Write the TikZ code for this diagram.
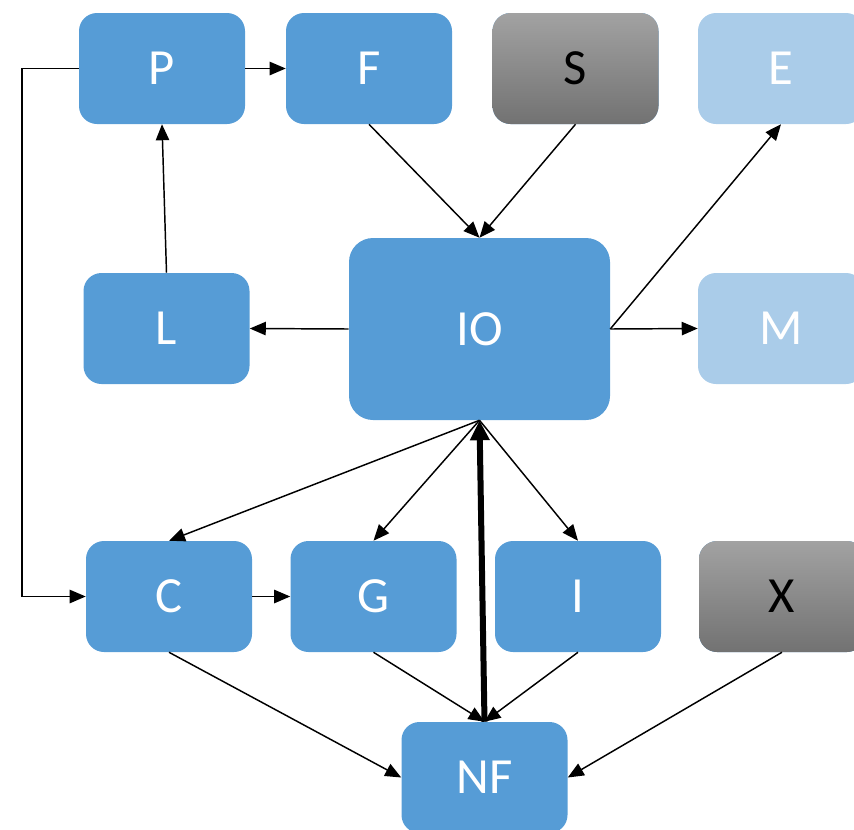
\documentclass[tikz,border=0pt]{standalone}
\usepackage{fontspec}
\setmainfont{Carlito}
\usetikzlibrary{arrows.meta}
\definecolor{bx}{HTML}{569CD6}
\definecolor{lbx}{HTML}{AACCE9}
\definecolor{gtop}{HTML}{A2A2A2}
\definecolor{gbot}{HTML}{727272}
\tikzset{
  box/.style={rounded corners=13.5pt, minimum width=124.5pt, minimum height=83.25pt, inner sep=0pt,
    font=\fontsize{38}{42}\selectfont, text=white, fill=bx},
  lbox/.style={box, fill=lbx},
  gbox/.style={box, text=black, top color=gtop, bottom color=gbot, middle color=gtop!50!gbot},
  conn/.style={line width=1.1pt, -{Triangle[length=12pt,width=10pt]}},
  thick conn/.style={line width=4.5pt, -{Triangle[length=15pt,width=14pt]}}
}
\begin{document}
\begin{tikzpicture}[x=0.75pt,y=-0.75pt]
\useasboundingbox (0,0) rectangle (854,829);
\clip (0,0) rectangle (854,829);
\node[box] (P) at (162,68.5) {P};
\node[box] (F) at (369,68.5) {F};
\node[gbox] (S) at (575.5,68.5) {S};
\node[lbox] (E) at (781,68.5) {E};
\node[box] (L) at (166.5,328.5) {L};
\node[box, minimum width=195.75pt, minimum height=136.5pt, rounded corners=18pt] (IO) at (479.5,329) {IO};
\node[lbox] (M) at (781,328.5) {M};
\node[box] (C) at (169,596.5) {C};
\node[box] (G) at (373.5,596.5) {G};
\node[box] (I) at (578,596.5) {I};
\node[gbox] (X) at (782,596.5) {X};
\node[box] (NF) at (484.5,777.5) {NF};
\coordinate (lft) at (22,0);
\draw[conn] (P.east) -- (F.west);
\draw[conn] (P.west) -- (P.west -| lft) -- (C.west -| lft) -- (C.west);
\draw[conn] (F.south) -- (IO.north);
\draw[conn] (S.south) -- (IO.north);
\draw[conn] (IO.east) -- (E.south);
\draw[conn] (IO.east) -- (M.west);
\draw[conn] (IO.west) -- (L.east);
\draw[conn] (L.north) -- (P.south);
\draw[conn] (IO.south) -- (C.north);
\draw[conn] (IO.south) -- (G.north);
\draw[conn] (IO.south) -- (I.north);
\draw[conn] (C.east) -- (G.west);
\draw[conn] (C.south) -- (NF.west);
\draw[conn] (G.south) -- (NF.north);
\draw[conn] (I.south) -- (NF.north);
\draw[conn] (X.south) -- (NF.east);
\draw[thick conn] (NF.north) -- (IO.south);
\end{tikzpicture}
\end{document}
